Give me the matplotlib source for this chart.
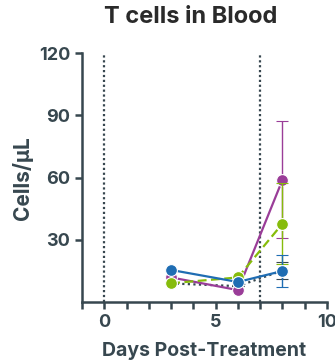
import matplotlib
matplotlib.use("Agg")
import matplotlib.pyplot as plt
from matplotlib.ticker import MultipleLocator

days = [3, 6, 8]

ctrl_mean = [9.0, 7.7, 15.2]
ctrl_err = [0, 0, 4.2]
purple_mean = [11.9, 5.8, 58.9]
purple_err = [0, 0, 28.2]
green_mean = [9.1, 11.9, 37.8]
green_err = [0, 0, 19.4]
blue_mean = [15.5, 9.7, 15.0]
blue_err = [0, 0, 7.7]

event_days = [0, 7]

title = "T cells in Blood"
xlabel = "Days Post-Treatment"
ylabel = "Cells/\u03bcL"

axis_col = "#37474f"
plt.rcParams["font.family"] = ["Inter", "DejaVu Sans"]

fig = plt.figure(figsize=(3.35, 3.64), dpi=100)
ax = fig.add_axes([0.245, 0.170, 0.731, 0.684])

for d in event_days:
    ax.plot([d, d], [0, 120], color=axis_col, lw=1.6, ls=(0, (1, 1.2)), zorder=1)

series = [
    (ctrl_mean, ctrl_err, "#37474f", (0, (1, 1.5)), 4),
    (purple_mean, purple_err, "#9a3d98", "-", 8.5),
    (green_mean, green_err, "#86bc0b", (0, (4, 2)), 8.5),
    (blue_mean, blue_err, "#1f6db3", "-", 8.5),
]
for i, (m, e, c, ls, ms) in enumerate(series):
    ax.errorbar(days, m, yerr=e, color=c, ls=ls, lw=1.6, marker="o", ms=ms,
                mec="white", mew=0.8, capsize=4, elinewidth=1.0, capthick=1.0,
                zorder=3 + i)

ax.set_xlim(-1, 10)
ax.set_ylim(0, 120)
ax.set_yticks([30, 60, 90, 120])
ax.set_xticks([0, 5, 10])
ax.xaxis.set_minor_locator(MultipleLocator(1))

for s in ["top", "right"]:
    ax.spines[s].set_visible(False)
for s in ["left", "bottom"]:
    ax.spines[s].set_color(axis_col)
    ax.spines[s].set_linewidth(1.8)

ax.tick_params(axis="both", which="both", color=axis_col, width=1.8,
               labelcolor=axis_col, labelsize=13)
ax.tick_params(axis="both", which="major", length=5)
ax.tick_params(axis="x", which="minor", length=5)
for lab in ax.get_xticklabels() + ax.get_yticklabels():
    lab.set_fontweight("bold")

ax.set_xlabel(xlabel, fontsize=14, fontweight="bold", color=axis_col, labelpad=8)
ax.set_ylabel(ylabel, fontsize=15, fontweight="bold", color=axis_col, labelpad=4)
fig.text(0.568, 0.952, title, ha="center", va="center", fontsize=17,
         fontweight="bold", color="#2a2a2a")

fig.savefig("out.png", dpi=100)
